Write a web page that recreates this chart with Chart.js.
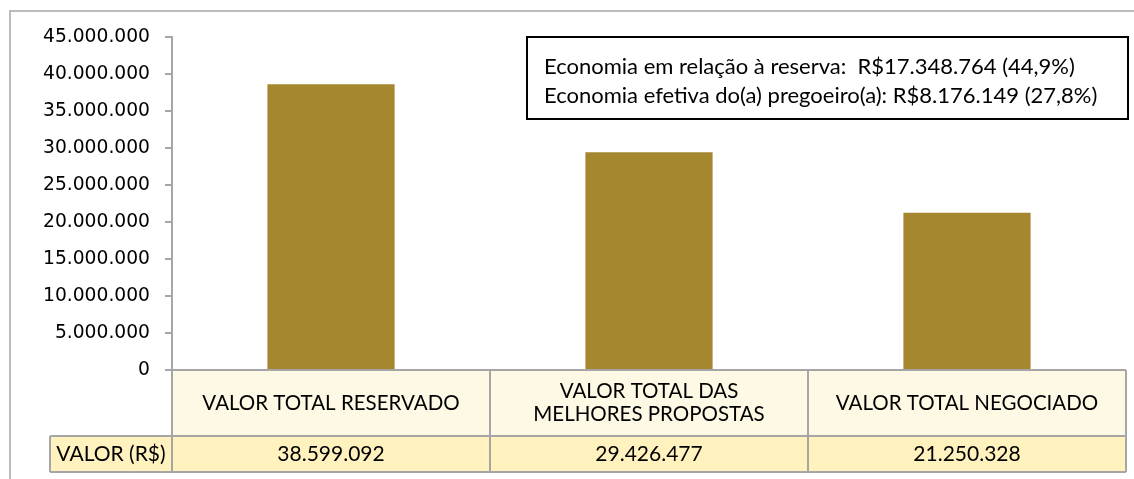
<!DOCTYPE html>
<html>
<head>
<meta charset="utf-8">
<script src="https://cdn.jsdelivr.net/npm/chart.js@4/dist/chart.umd.min.js"></script>
<style>
  html, body { margin: 0; padding: 0; background: #fff; }
  #wrap { width: 1134px; height: 479px; position: relative; }
</style>
</head>
<body>
<div id="wrap"><canvas id="grafico"></canvas></div>
<script>
// dados do grafico
const categorias = [
  ["VALOR TOTAL RESERVADO"],
  ["VALOR TOTAL DAS", "MELHORES PROPOSTAS"],
  ["VALOR TOTAL NEGOCIADO"]
];
const valores = [38599092, 29426477, 21250328];
const rotuloLinha = "VALOR (R$)";
const textosEconomia = [
  "Economia em relação à reserva:  R$17.348.764 (44,9%)",
  "Economia efetiva do(a) pregoeiro(a): R$8.176.149 (27,8%)"
];
const eixoMax = 45000000;
const eixoPasso = 5000000;

const corBarra = "#A5872F";
const corBorda = "#A6A6A6";
const fonteTabela = "Lato, 'Open Sans', sans-serif";

function formatarBR(n) {
  return String(Math.round(n)).replace(/\B(?=(\d{3})+(?!\d))/g, ".");
}

// desenha moldura, tabela de dados e caixa de texto
const tabelaPlugin = {
  id: "tabela",
  afterDraw(chart) {
    const ctx = chart.ctx;
    const area = chart.chartArea;
    const xs = chart.scales.x;
    const n = categorias.length;
    const larg = (area.right - area.left) / n;
    const topo = area.bottom;
    const meio = topo + 66;
    const fundo = meio + 36;
    const esq = 50;

    ctx.save();
    // fundo das linhas
    ctx.fillStyle = "#FDF9E4";
    ctx.fillRect(area.left, topo, area.right - area.left, meio - topo);
    ctx.fillStyle = "#FFF2BF";
    ctx.fillRect(esq, meio, area.right - esq, fundo - meio);

    // linhas da tabela
    ctx.strokeStyle = corBorda;
    ctx.lineWidth = 2;
    ctx.beginPath();
    ctx.moveTo(area.left, topo); ctx.lineTo(area.right, topo);
    ctx.moveTo(esq, meio); ctx.lineTo(area.right, meio);
    ctx.moveTo(esq, fundo); ctx.lineTo(area.right, fundo);
    ctx.moveTo(esq, meio); ctx.lineTo(esq, fundo);
    for (let i = 0; i <= n; i++) {
      const x = area.left + i * larg;
      ctx.moveTo(x, topo); ctx.lineTo(x, fundo);
    }
    ctx.stroke();

    // textos
    ctx.fillStyle = "#000";
    ctx.textAlign = "center";
    ctx.textBaseline = "middle";
    categorias.forEach((linhas, i) => {
      const cx = xs.getPixelForValue(i);
      const cy = (topo + meio) / 2;
      const h = 23;
      ctx.font = "20.5px " + fonteTabela;
      linhas.forEach((t, k) => {
        ctx.fillText(t, cx, cy + (k - (linhas.length - 1) / 2) * h);
      });
      ctx.font = "21px " + fonteTabela;
      ctx.fillText(formatarBR(valores[i]), cx, (meio + fundo) / 2);
    });
    ctx.fillText(rotuloLinha, (esq + area.left) / 2, (meio + fundo) / 2);

    // moldura externa
    ctx.strokeStyle = corBorda;
    ctx.lineWidth = 1.5;
    ctx.beginPath();
    ctx.moveTo(10, chart.height); ctx.lineTo(10, 11); ctx.lineTo(chart.width, 11);
    ctx.stroke();

    // caixa de economia
    const bx = 527, by = 37, bw = 601, bh = 82;
    ctx.fillStyle = "#fff";
    ctx.fillRect(bx, by, bw, bh);
    ctx.strokeStyle = "#000";
    ctx.lineWidth = 2;
    ctx.strokeRect(bx, by, bw, bh);
    ctx.fillStyle = "#000";
    ctx.textAlign = "left";
    ctx.textBaseline = "alphabetic";
    ctx.font = "22px " + fonteTabela;
    textosEconomia.forEach((t, k) => {
      ctx.fillText(t, bx + 17, by + 37 + k * 29);
    });
    ctx.restore();
  }
};

const grafico = new Chart(document.getElementById("grafico"), {
  type: "bar",
  data: {
    labels: categorias.map(c => c.join(" ")),
    datasets: [{
      label: rotuloLinha,
      data: valores,
      backgroundColor: corBarra,
      borderWidth: 0,
      barPercentage: 0.4,
      categoryPercentage: 1.0
    }]
  },
  options: {
    responsive: true,
    maintainAspectRatio: false,
    animation: false,
    layout: { padding: { left: 0, top: 37, right: 8, bottom: 109 } },
    plugins: {
      legend: { display: false },
      tooltip: { enabled: false }
    },
    scales: {
      x: { display: false, offset: true },
      y: {
        min: 0,
        max: eixoMax,
        afterFit(scale) { scale.width = 172; },
        border: { display: true, color: corBorda, width: 2 },
        grid: { drawOnChartArea: false, drawTicks: true, tickLength: 7, color: corBorda, lineWidth: 2 },
        ticks: {
          stepSize: eixoPasso,
          padding: 15,
          color: "#000",
          font: { family: "'DejaVu Sans', Verdana, sans-serif", size: 18.7 },
          callback: v => formatarBR(v)
        }
      }
    }
  },
  plugins: [tabelaPlugin]
});
</script>
</body>
</html>
